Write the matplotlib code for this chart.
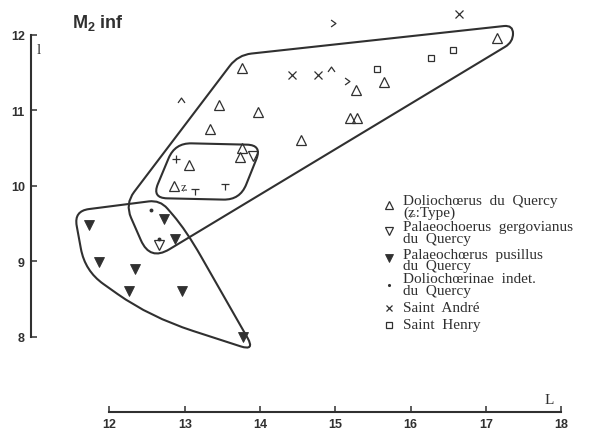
import numpy as np
import matplotlib
matplotlib.use('Agg')
import matplotlib.pyplot as plt
from matplotlib.path import Path
from matplotlib.patches import PathPatch

plt.rcParams['font.family'] = ['Liberation Sans', 'DejaVu Sans']
plt.rcParams['mathtext.fontset'] = 'custom'
plt.rcParams['mathtext.bf'] = 'Liberation Sans:bold'
plt.rcParams['mathtext.rm'] = 'Liberation Sans'

# M2 inf measurements: L (length) vs l (width), mm
dolio_L = [13.76, 13.45, 13.97, 13.34, 13.76, 13.74, 13.06, 12.86, 15.28, 15.65, 17.15, 15.19, 15.29, 14.55]
dolio_l = [11.56, 11.07, 10.98, 10.75, 10.50, 10.38, 10.28, 9.99, 11.27, 11.38, 11.96, 10.90, 10.90, 10.60]
type_L, type_l = 12.86, 9.99

gergo_L = [13.91, 12.66]
gergo_l = [10.40, 9.22]

pusil_L = [12.73, 12.87, 11.73, 11.86, 12.34, 12.26, 12.96, 13.77]
pusil_l = [9.56, 9.29, 9.48, 8.99, 8.90, 8.61, 8.60, 7.99]

indet_L = [12.55, 12.66]
indet_l = [9.68, 9.30]

andre_L = [14.43, 14.77, 16.64]
andre_l = [11.47, 11.47, 12.27]

henry_L = [15.55, 16.27, 16.56]
henry_l = [11.55, 11.69, 11.80]

# other localities, unlabelled signs
plus_L, plus_l = [12.88], [10.36]
hat_L, hat_l = [12.95, 14.95], [11.14, 11.55]
gt_L, gt_l = [14.97, 15.15], [12.16, 11.39]
tee_L, tee_l = [13.14, 13.54], [9.93, 9.99]

# envelopes (corner points, rounded when drawn)
env_dolio = [(13.708, 11.731), (17.362, 12.128), (17.362, 11.903), (12.538, 9.003), (12.206, 9.758)]
env_inner = [(12.870, 10.566), (14.027, 10.539), (13.734, 9.811), (12.565, 9.837)]
env_pusil = [(11.528, 9.665), (12.671, 9.811), (13.017, 9.411), (13.934, 7.810),
             (12.538, 8.261), (11.674, 8.871)]

legend_items = [
    ('tri', ['Doliochœrus  du  Quercy', '(ʑ:Type)']),
    ('tri_down', ['Palaeochoerus  gergovianus', 'du  Quercy']),
    ('tri_fill', ['Palaeochœrus  pusillus', 'du  Quercy']),
    ('dot', ['Doliochœrinae  indet.', 'du  Quercy']),
    ('cross', ['Saint  André']),
    ('square', ['Saint  Henry']),
]

ink = '#303030'
W, H = 597, 431


def rounded(verts, radii):
    verts = np.asarray(verts, float)
    n = len(verts)
    pts, codes = [], []
    for i in range(n):
        p0, p1, p2 = verts[i - 1], verts[i], verts[(i + 1) % n]
        d1, d2 = p0 - p1, p2 - p1
        l1, l2 = np.hypot(*d1), np.hypot(*d2)
        r = radii[i]
        a = p1 + d1 / l1 * min(r, l1 / 2)
        b = p1 + d2 / l2 * min(r, l2 / 2)
        pts.append(a)
        codes.append(Path.MOVETO if i == 0 else Path.LINETO)
        pts += [p1, b]
        codes += [Path.CURVE3, Path.CURVE3]
    pts.append(pts[0])
    codes.append(Path.LINETO)
    return Path(pts, codes)


hat = Path([(-1, -0.7), (0, 0.7), (1, -0.7)], [Path.MOVETO, Path.LINETO, Path.LINETO])
gt = Path([(-0.7, 1), (0.7, 0), (-0.7, -1)], [Path.MOVETO, Path.LINETO, Path.LINETO])
tee = Path([(-1, 0.5), (1, 0.5), (0, 0.5), (0, -1)],
           [Path.MOVETO, Path.LINETO, Path.MOVETO, Path.LINETO])

styles = {
    'tri': dict(marker='^', ms=6.5, mfc='none', mec=ink, mew=0.9),
    'tri_down': dict(marker='v', ms=6.5, mfc='none', mec=ink, mew=0.9),
    'tri_fill': dict(marker='v', ms=7, mfc=ink, mec=ink, mew=0.6),
    'dot': dict(marker='o', ms=2.8, mfc=ink, mec=ink, mew=0),
    'cross': dict(marker='x', ms=5.3, mec=ink, mew=0.9),
    'square': dict(marker='s', ms=4.8, mfc='none', mec=ink, mew=0.9),
}

fig = plt.figure(figsize=(W / 100, H / 100), dpi=100)
ax = fig.add_axes([0, 0, 1, 1])
ax.set_xlim(10.545, 18.478)
ax.set_ylim(6.764, 12.473)


def px(x, y):
    return x / W, 1 - y / H


for verts, radii in [(env_dolio, [0.18, 0.12, 0.12, 0.3, 0.2]),
                     (env_inner, [0.22, 0.2, 0.22, 0.2]),
                     (env_pusil, [0.2, 0.15, 0.4, 0.2, 0.6, 0.3])]:
    ax.add_patch(PathPatch(rounded(verts, radii), fill=False, ec=ink, lw=1.5))

ax.plot(dolio_L, dolio_l, ls='none', **styles['tri'])
ax.plot(gergo_L, gergo_l, ls='none', **styles['tri_down'])
ax.plot(pusil_L, pusil_l, ls='none', **styles['tri_fill'])
ax.plot(indet_L, indet_l, ls='none', **styles['dot'])
ax.plot(andre_L, andre_l, ls='none', **styles['cross'])
ax.plot(henry_L, henry_l, ls='none', **styles['square'])
ax.plot(plus_L, plus_l, ls='none', marker='+', ms=6, mec=ink, mew=0.9)
ax.plot(hat_L, hat_l, ls='none', marker=hat, ms=5, mec=ink, mfc='none', mew=0.9)
ax.plot(gt_L, gt_l, ls='none', marker=gt, ms=5, mec=ink, mfc='none', mew=0.9)
ax.plot(tee_L, tee_l, ls='none', marker=tee, ms=5.5, mec=ink, mfc='none', mew=0.9)
ax.text(type_L + 0.09, type_l, 'ʑ', fontsize=9, color=ink, va='center', ha='left',
        family=['Liberation Serif', 'DejaVu Serif'])

# axes drawn as two detached scales
ax.spines['top'].set_visible(False)
ax.spines['right'].set_visible(False)
ax.spines['left'].set_position(('data', 10.96))
ax.spines['left'].set_bounds(8, 12)
ax.spines['bottom'].set_position(('data', 7.0))
ax.spines['bottom'].set_bounds(12, 18)
for s in ('left', 'bottom'):
    ax.spines[s].set_color(ink)
    ax.spines[s].set_linewidth(1.5)
ax.set_xticks(range(12, 19))
ax.set_yticks(range(8, 13))
ax.tick_params(direction='in', length=4, width=1.1, color=ink, labelcolor=ink, labelsize=9)
ax.tick_params(axis='y', pad=4.5)
ax.tick_params(axis='x', pad=4)
for lab in ax.get_xticklabels() + ax.get_yticklabels():
    lab.set_fontweight('bold')

serif = ['Liberation Serif', 'DejaVu Serif']
ax.text(*px(72, 28), r'$\mathbf{M_2}$ inf', transform=ax.transAxes, fontsize=13,
        fontweight='bold', color=ink, va='baseline')
ax.text(*px(39, 50), 'l', transform=ax.transAxes, fontsize=11, color=ink,
        family=serif, ha='center', va='center')
ax.text(*px(549, 401), 'L', transform=ax.transAxes, fontsize=11, color=ink,
        family=serif, ha='center', va='center')

# key: one text per line, tightly stacked
rows = [(206, [201, 213]), (232, [228, 240]), (259, [255, 267]),
        (286, [280, 292]), (309, [309]), (326, [326])]
for (kind, lines), (my, ys) in zip(legend_items, rows):
    ax.plot(*px(389, my), transform=ax.transAxes, ls='none', clip_on=False,
            **{**styles[kind], 'ms': styles[kind]['ms'] * 0.8})
    for line, ty in zip(lines, ys):
        ax.text(*px(403, ty), line, transform=ax.transAxes, fontsize=11,
                color=ink, family=serif, va='center', ha='left')

fig.savefig('out.png', dpi=100, facecolor='white')
